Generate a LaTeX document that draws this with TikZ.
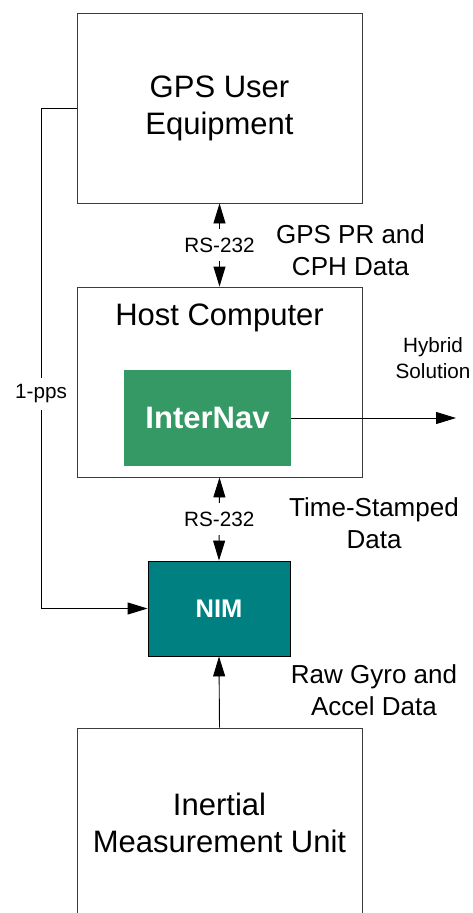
\documentclass[tikz,border=0pt]{standalone}
\usepackage{fontspec}
\setmainfont{Liberation Sans}
\usepackage{tikz}
\usetikzlibrary{positioning, arrows.meta}
\definecolor{navgreen}{RGB}{52,153,101}
\definecolor{nimteal}{RGB}{0,128,128}
\definecolor{edgegray}{RGB}{60,60,60}
\tikzset{
  block/.style    = {rectangle, draw=edgegray, line width=0.9pt, minimum width=285pt, minimum height=190pt, inner sep=0pt, align=center, font=\fontsize{31}{37}\selectfont},
  internav/.style = {rectangle, fill=navgreen, minimum width=167pt, minimum height=96pt, inner sep=0pt, text=white, font=\bfseries\fontsize{31}{37}\selectfont},
  nim/.style      = {rectangle, draw=black, line width=0.9pt, fill=nimteal, minimum width=142pt, minimum height=95pt, inner sep=0pt, text=white, font=\bfseries\fontsize{25.5}{30}\selectfont},
  midtext/.style  = {align=center, inner sep=0pt, font=\fontsize{26}{32}\selectfont},
  smalltext/.style= {align=center, inner sep=0pt, font=\fontsize{20.7}{26.6}\selectfont},
  gaplabel/.style = {fill=white, inner xsep=2pt, font=\fontsize{20.7}{26.6}\selectfont},
  conn/.style     = {line width=0.9pt, draw=black},
  ptri/.tip       = {Triangle[length=20pt, width=12pt]},
}
\begin{document}
\begin{tikzpicture}[x=1pt, y=-1pt]
    \clip (0,0) rectangle (473,913);
    \fill[white] (0,0) rectangle (473,913);

    % main blocks
    \node[block] (gps)  at (219.5,108) {GPS User\\Equipment};
    \node[block] (host) at (219.5,382) {};
    \node[block] (imu)  at (219.5,823) {Inertial\\Measurement Unit};
    \node[font=\fontsize{31}{37}\selectfont, inner sep=0pt] (hostlbl) at (219.5,318) {Host Computer};
    \node[internav] (nav) at (207.5,418) {InterNav};
    \node[nim] (nim) at (219,608.5) {NIM};

    % serial links
    \draw[conn, ptri-ptri] (gps.south) -- node[gaplabel, inner ysep=8.5pt] (rsa) {RS-232} (host.north);
    \draw[conn, ptri-ptri] (host.south) -- node[gaplabel, inner ysep=8.5pt] (rsb) {RS-232} (nim.north);

    % imu raw data
    \draw[conn, -ptri] (imu.north) -- (nim.south);

    % 1-pps line
    \coordinate (ppscorner) at (41,108);
    \draw[conn, -ptri] (gps.west) -- (ppscorner) |- (nim.west);
    \node[gaplabel, inner ysep=6.5pt, inner xsep=1pt] (pps) at (41,394) {1-pps};

    % hybrid output
    \coordinate (hybridend) at (456,418);
    \draw[conn, -ptri] (nav.east) -- (hybridend);

    % side texts
    \node[midtext]   (gpsdata) at (350.5,250)   {GPS PR and\\CPH Data};
    \node[smalltext] (hybrid)  at (433,358)     {Hybrid\\Solution};
    \node[midtext]   (stamped) at (374,523.5)   {Time-Stamped\\Data};
    \node[midtext]   (rawdata) at (374,690.5)   {Raw Gyro and\\Accel Data};
  \end{tikzpicture}
\end{document}
